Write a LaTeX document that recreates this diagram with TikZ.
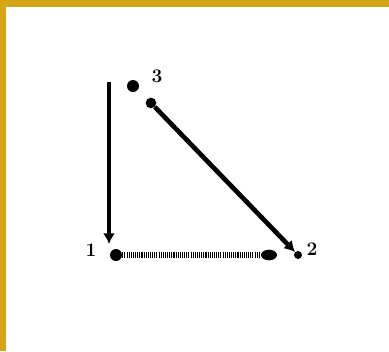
\documentclass[tikz,border=0pt]{standalone}
\usetikzlibrary{arrows.meta}
\usetikzlibrary{positioning}
\usetikzlibrary{shapes.geometric}
\definecolor{trframe}{HTML}{D4A517}
\definecolor{trink}{HTML}{000000}
\tikzset{
  trdot/.style={circle, fill=trink, inner sep=0pt, minimum size=9pt},
  trlabel/.style={font=\bfseries\Large, text=trink, inner sep=0pt},
  trsolid/.style={draw=trink, line width=3.5pt},
  trhatch/.style={draw=trink, line width=4pt, dash pattern=on 0.8pt off 0.8pt},
  trtip/.style={-{Latex[length=8pt, width=9pt]}},
}

\begin{document}
\begin{tikzpicture}[x=0.75pt, y=-0.75pt]

% Frame.
\fill[trframe] (0, 0) rectangle (389, 351);
\fill[white] (6, 7) rectangle (389, 351);
\useasboundingbox (0, 0) rectangle (389, 351);

% Vertices.
\node[trdot] (top) at (133, 86) {};
\node[trdot] (left) at (116, 255) {};
\node[trdot, minimum size=6pt] (right) at (298, 255) {};
\node[trlabel] (toplabel) at (157, 76) {3};
\node[trlabel] (leftlabel) at (91, 250) {1};
\node[trlabel] (rightlabel) at (312, 249) {2};

% Edges.
\coordinate (vstart) at (109, 82);
\coordinate (vend) at (109, 244);
\draw[trsolid, trtip] (vstart) -- (vend);

\node[trdot, minimum size=8pt] (dstart) at (151, 103) {};
\draw[trsolid, trtip] (dstart) -- (right);

\node[ellipse, fill=trink, inner sep=0pt, minimum width=12pt,
      minimum height=8pt] (hend) at (269, 255) {};
\draw[trhatch] (left) -- (hend);

\end{tikzpicture}
\end{document}
